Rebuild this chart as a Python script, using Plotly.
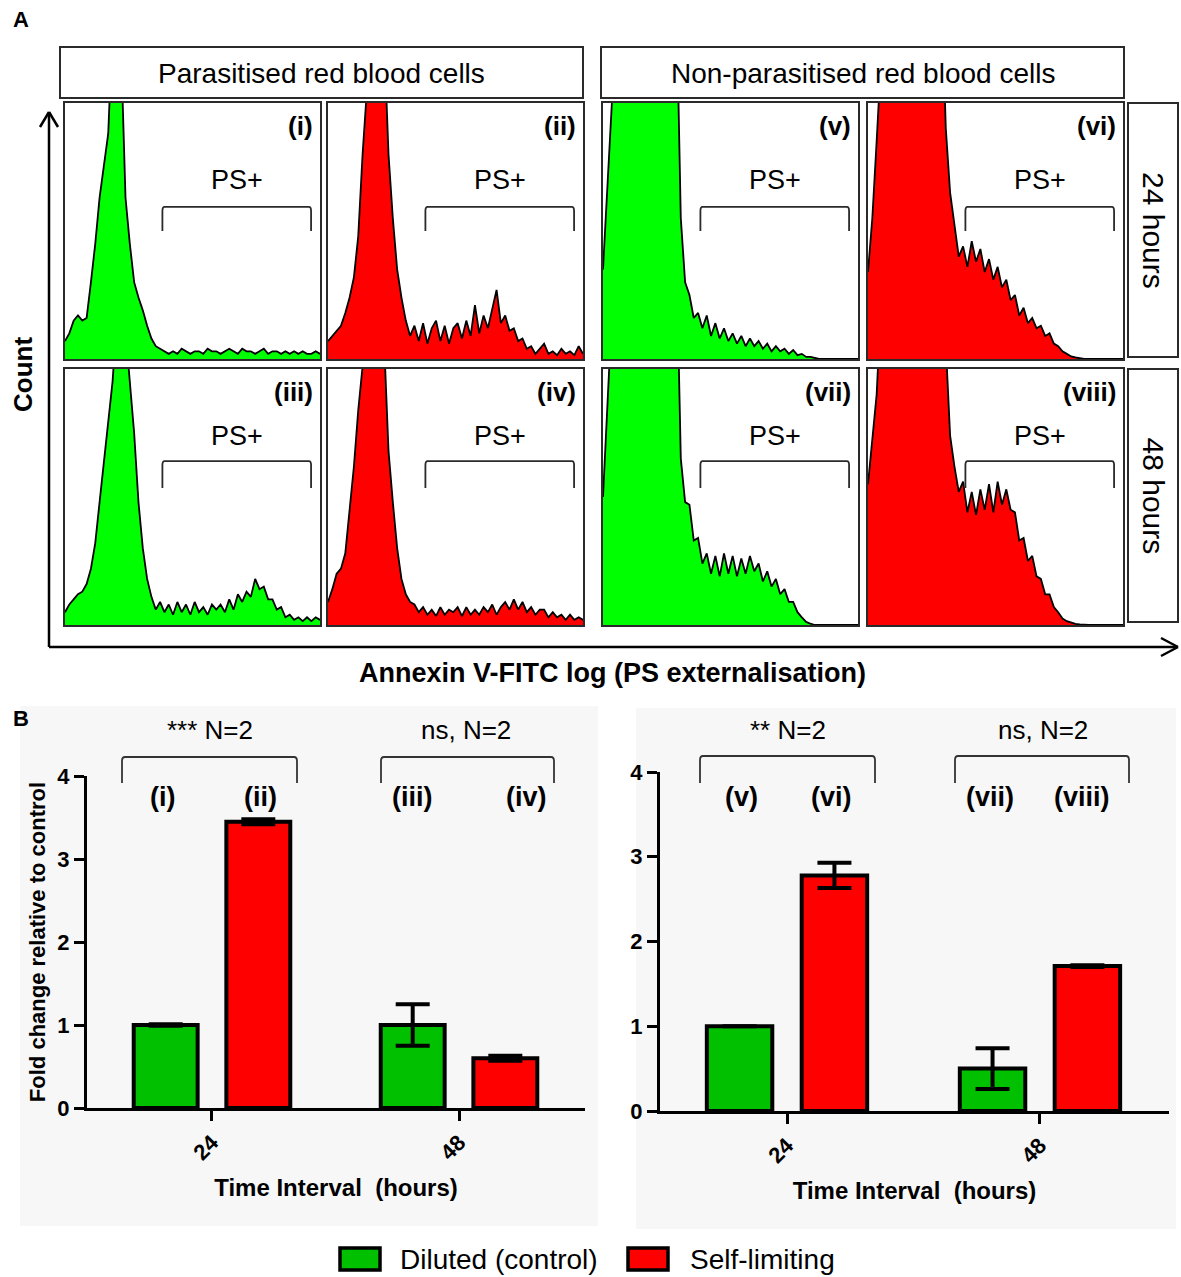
import plotly.graph_objects as go

W, H = 1181, 1277
FONT = "Arial, Liberation Sans, sans-serif"


def px(x):
    return x / W


def py(y):
    return 1 - y / H


# ---------------- data: flow-cytometry histograms (counts, 100 = panel top) -------------
channel = list(range(60))

hist_i = [7, 10, 15, 17, 15, 16, 30, 45, 63, 76, 88, 130, 140, 120, 63, 45, 30, 24, 19, 13,
          8, 5, 4, 3, 2, 3, 2, 4, 3, 2, 3, 3, 2, 4, 3, 3, 2, 3, 4, 3,
          2, 4, 3, 3, 2, 3, 4, 2, 3, 3, 2, 3, 2, 3, 2, 3, 2, 2, 3, 2]
hist_ii = [7, 9, 11, 13, 18, 24, 32, 48, 80, 110, 130, 135, 140, 125, 80, 55, 35, 24, 15, 9,
           13, 7, 14, 6, 12, 15, 7, 13, 6, 12, 14, 8, 15, 9, 21, 10, 17, 12, 19, 27,
           14, 17, 11, 12, 7, 8, 4, 5, 2, 4, 6, 2, 3, 1.5, 4, 2, 3, 1.5, 5, 2]
hist_iii = [5, 8, 10, 12, 13, 16, 22, 32, 48, 64, 78, 95, 120, 125, 115, 95, 75, 48, 30, 18,
            11, 6, 9, 5, 8, 4, 9, 5, 8, 4, 9, 5, 7, 4, 8, 6, 8, 5, 10, 6,
            12, 9, 13, 11, 18, 14, 15, 10, 10, 6, 7, 3, 4, 2, 3, 1.5, 3, 1.5, 3, 2]
hist_iv = [9, 14, 20, 22, 28, 44, 62, 84, 105, 130, 135, 140, 138, 110, 68, 48, 30, 18, 12, 9,
           8, 5, 7, 4, 6, 3.5, 7, 4, 6, 5, 7, 3.5, 7, 4, 6, 4, 7, 5, 8, 4,
           7, 9, 6, 10, 6, 9, 5, 7, 4, 6, 6, 3, 5, 3, 4, 2, 4, 2, 3, 2]
hist_v = [35, 65, 95, 130, 150, 148, 152, 150, 147, 151, 149, 150, 153, 148, 150, 151, 149, 140, 55, 30,
          25, 16, 18, 12, 17, 9, 14, 8, 12, 7, 10, 6, 9, 5, 8, 5, 7, 4, 6, 3,
          5, 3, 4, 2, 3.5, 1.5, 2, 0.8, 0.8, 0.3, 0, 0, 0, 0, 0, 0, 0, 0, 0, 0]
hist_vi = [34, 55, 85, 120, 148, 150, 152, 149, 151, 150, 148, 153, 150, 149, 151, 150, 148, 145, 90, 65,
           52, 40, 44, 36, 46, 38, 43, 34, 39, 31, 36, 28, 31, 23, 25, 17, 20, 14, 16, 12,
           13, 9, 10, 6, 5, 3, 2, 1, 0.6, 0.3, 0, 0, 0, 0, 0, 0, 0, 0, 0, 0]
hist_vii = [50, 88, 120, 148, 150, 152, 149, 151, 150, 148, 153, 150, 149, 151, 150, 148, 152, 145, 65, 48,
            47, 33, 34, 24, 28, 20, 27, 19, 28, 20, 27, 19, 26, 20, 27, 21, 24, 17, 21, 15,
            18, 12, 14, 9, 9, 5, 3, 1.2, 0.5, 0, 0, 0, 0, 0, 0, 0, 0, 0, 0, 0]
hist_viii = [55, 72, 90, 125, 150, 148, 152, 150, 149, 151, 150, 148, 153, 150, 149, 151, 150, 145, 110, 74,
             62, 52, 56, 44, 52, 43, 53, 45, 55, 44, 56, 47, 53, 45, 44, 33, 34, 25, 27, 19,
             18, 12, 12, 7, 5, 2.5, 1.5, 0.8, 0.4, 0.2, 0, 0, 0, 0, 0, 0, 0, 0, 0, 0]

panel_labels = ["(i)", "(ii)", "(v)", "(vi)", "(iii)", "(iv)", "(vii)", "(viii)"]
panel_data = [hist_i, hist_ii, hist_v, hist_vi, hist_iii, hist_iv, hist_vii, hist_viii]
panel_is_control = [True, False, True, False, True, False, True, False]
header_texts = ["Parasitised red blood cells", "Non-parasitised red blood cells"]
row_texts = ["24 hours", "48 hours"]

# ---------------- data: bar charts ----------------
time_groups = ["24", "48"]
left_control = [1.0, 1.0]
left_control_err = [0.01, 0.25]
left_self = [3.45, 0.60]
left_self_err = [0.03, 0.03]
right_control = [1.0, 0.50]
right_control_err = [0.0, 0.24]
right_self = [2.78, 1.71]
right_self_err = [0.15, 0.01]
y_ticks = [0, 1, 2, 3, 4]
left_sig = ["*** N=2", "ns, N=2"]
right_sig = ["** N=2", "ns, N=2"]
left_bar_labels = ["(i)", "(ii)", "(iii)", "(iv)"]
right_bar_labels = ["(v)", "(vi)", "(vii)", "(viii)"]
legend_names = ["Diluted (control)", "Self-limiting"]

GREEN_H = "#00ff00"
RED_H = "#ff0000"
GREEN_B = "#00c000"
RED_B = "#ff0000"
EDGE = "#2a2a2a"

fig = go.Figure()
layout = dict(
    width=W, height=H, margin=dict(l=0, r=0, t=0, b=0, pad=0, autoexpand=False),
    paper_bgcolor="white", plot_bgcolor="rgba(0,0,0,0)",
    showlegend=False, font=dict(family=FONT, color="black"),
    bargap=0.25, bargroupgap=0.31,
)
shapes = []
annotations = []


def paper_text(text, x, y, size, xanchor="center", yanchor="middle", angle=0):
    annotations.append(dict(text=text, x=px(x), y=py(y), xref="paper", yref="paper",
                            xanchor=xanchor, yanchor=yanchor, showarrow=False,
                            textangle=angle, font=dict(size=size, family=FONT)))


cols = [(65, 320), (328, 583), (603, 858), (868, 1123)]
rows = [(103, 359), (369, 625)]

for k in range(8):
    n = k + 1
    r, c = divmod(k, 4)
    x0, x1 = cols[c]
    y0, y1 = rows[r]
    xa = "xaxis" if n == 1 else f"xaxis{n}"
    ya = "yaxis" if n == 1 else f"yaxis{n}"
    xid = "x" if n == 1 else f"x{n}"
    yid = "y" if n == 1 else f"y{n}"
    green = panel_is_control[k]
    fig.add_trace(go.Scatter(
        x=channel, y=panel_data[k], mode="lines", fill="tozeroy",
        fillcolor=GREEN_H if green else RED_H,
        line=dict(color="black", width=1.8), xaxis=xid, yaxis=yid,
        hoverinfo="skip"))
    common = dict(showticklabels=False, ticks="", showgrid=False, zeroline=False,
                  showline=True, mirror=True, linecolor=EDGE, linewidth=1.5,
                  fixedrange=True, automargin=False)
    layout[xa] = dict(domain=[px(x0), px(x1)], range=[0, 59], anchor=yid, **common)
    layout[ya] = dict(domain=[py(y1), py(y0)], range=[0, 100], anchor=xid, **common)
    # PS+ gate bracket
    bx0, bx1 = 0.382 * 59, 0.965 * 59
    if r == 0:
        byt, byb, ty = 59.4, 50.0, 70.0
    else:
        byt, byb, ty = 64.0, 53.5, 74.0
    path = (f"M {bx0},{byb} L {bx0},{byt-1.6} Q {bx0},{byt} {bx0+0.5},{byt} "
            f"L {bx1-0.5},{byt} Q {bx1},{byt} {bx1},{byt-1.6} L {bx1},{byb}")
    shapes.append(dict(type="path", path=path, xref=xid, yref=yid,
                       line=dict(color=EDGE, width=1.8)))
    annotations.append(dict(text="PS+", x=0.675 * 59, y=ty, xref=xid, yref=yid,
                            xanchor="center", yanchor="middle",
                            showarrow=False, font=dict(size=27, family=FONT)))
    annotations.append(dict(text=f"<b>{panel_labels[k]}</b>", x=1, y=1,
                            xref=f"{xid} domain", yref=f"{yid} domain",
                            xanchor="right", yanchor="top", xshift=-5, yshift=-6,
                            showarrow=False, font=dict(size=26, family=FONT)))

# header boxes
for (hx0, hx1), txt in zip([(60, 583), (601, 1124)], header_texts):
    shapes.append(dict(type="rect", xref="paper", yref="paper", x0=px(hx0), x1=px(hx1),
                       y0=py(98), y1=py(47), line=dict(color=EDGE, width=2)))
    paper_text(txt, (hx0 + hx1) / 2, 73, 28)
# row label boxes
for (ry0, ry1), txt in zip([(103, 357), (369, 622)], row_texts):
    shapes.append(dict(type="rect", xref="paper", yref="paper", x0=px(1128), x1=px(1178),
                       y0=py(ry1), y1=py(ry0), line=dict(color=EDGE, width=2)))
    paper_text(txt, 1153, (ry0 + ry1) / 2, 30, angle=90)

# axis arrows of part A
arrow_segments = [((49, 647), (49, 112)), ((40, 127), (49, 112)), ((58, 127), (49, 112)),
                  ((49, 647), (1178, 647)), ((1161, 638), (1178, 647)), ((1161, 656), (1178, 647))]
for (ax0, ay0), (ax1, ay1) in arrow_segments:
    shapes.append(dict(type="line", xref="paper", yref="paper", x0=px(ax0), y0=py(ay0),
                       x1=px(ax1), y1=py(ay1), line=dict(color="black", width=2.5)))
paper_text("<b>Count</b>", 23, 375, 26, angle=-90)
paper_text("<b>Annexin V-FITC log (PS externalisation)</b>", 612, 673, 27)
paper_text("<b>A</b>", 21, 20, 22)
paper_text("<b>B</b>", 21, 718, 22)

# ---------------- part B bar charts ----------------
for bx0, bx1, by0, by1 in [(20, 598, 706, 1226), (636, 1176, 708, 1229)]:
    shapes.append(dict(type="rect", xref="paper", yref="paper", x0=px(bx0), x1=px(bx1),
                       y0=py(by1), y1=py(by0), fillcolor="#f7f7f7", line=dict(width=0),
                       layer="below"))

bar_specs = [
    (9, (87, 585), (776, 1108), [-0.506, 1.51], left_control, left_control_err,
     left_self, left_self_err, True),
    (10, (660, 1169), (772, 1111), [-0.502, 1.51], right_control, right_control_err,
     right_self, right_self_err, False),
]
for n, (dx0, dx1), (dyt, dyb), xr, ctl, ctl_e, slf, slf_e, with_title in bar_specs:
    xid, yid = f"x{n}", f"y{n}"
    for vals, errs, col in [(ctl, ctl_e, GREEN_B), (slf, slf_e, RED_B)]:
        fig.add_trace(go.Bar(
            x=time_groups, y=vals, xaxis=xid, yaxis=yid,
            marker=dict(color=col, line=dict(color="black", width=4)),
            error_y=dict(type="data", array=errs, color="black", thickness=4, width=17),
            hoverinfo="skip"))
    layout[f"xaxis{n}"] = dict(
        domain=[px(dx0), px(dx1)], range=xr, anchor=yid, type="category",
        showline=True, linecolor="black", linewidth=3, showgrid=False, zeroline=False,
        ticks="outside", ticklen=10, tickwidth=3, tickcolor="black", tickangle=-45,
        tickfont=dict(size=22, family=FONT, color="black", weight="bold"),
        title=dict(text="<b>Time Interval\u00a0 (hours)</b>", standoff=16,
                   font=dict(size=24, family=FONT)),
        fixedrange=True, automargin=False)
    yax = dict(
        domain=[py(dyb), py(dyt)], range=[0, 4], anchor=xid,
        tickvals=y_ticks, ticktext=[f"<b>{t}</b>" for t in y_ticks],
        showline=True, linecolor="black", linewidth=3, showgrid=False, zeroline=False,
        ticks="outside", ticklen=10, tickwidth=3, tickcolor="black",
        tickfont=dict(size=22, family=FONT, color="black"), fixedrange=True,
        automargin=False)
    if with_title:
        yax["title"] = dict(text="<b>Fold change relative to control</b>", standoff=6,
                            font=dict(size=22, family=FONT))
    layout[f"yaxis{n}"] = yax

# significance brackets and labels
sig_specs = [
    (left_sig, [(122, 297), (381, 554)], [210, 466], 757, 783),
    (right_sig, [(700, 875), (955, 1129)], [788, 1043], 756, 783),
]
for texts, spans, centers, top, bot in sig_specs:
    for txt, (sx0, sx1), cx in zip(texts, spans, centers):
        p = (f"M {px(sx0)},{py(bot)} L {px(sx0)},{py(top + 4)} Q {px(sx0)},{py(top)} "
             f"{px(sx0 + 3)},{py(top)} L {px(sx1 - 3)},{py(top)} Q {px(sx1)},{py(top)} "
             f"{px(sx1)},{py(top + 4)} L {px(sx1)},{py(bot)}")
        shapes.append(dict(type="path", path=p, xref="paper", yref="paper",
                           line=dict(color="#333333", width=1.8)))
        paper_text(txt, cx, 730, 26)
for labels, xs in [(left_bar_labels, [162, 260, 412, 526]),
                   (right_bar_labels, [742, 831, 990, 1082])]:
    for lab, lx in zip(labels, xs):
        paper_text(f"<b>{lab}</b>", lx, 797, 27)

# legend (drawn)
for (lx0, lx1, tx), name, col in zip([(340, 380, 398), (628, 668, 688)], legend_names,
                                     [GREEN_B, RED_B]):
    shapes.append(dict(type="rect", xref="paper", yref="paper", x0=px(lx0), x1=px(lx1),
                       y0=py(1270), y1=py(1248), fillcolor=col,
                       line=dict(color="black", width=3.5)))
    paper_text(name, tx, 1259, 28, xanchor="left")

layout["shapes"] = shapes
layout["annotations"] = annotations
fig.update_layout(**layout)

fig.write_html("out.html", config={"displayModeBar": False},
               post_script="document.body.style.margin='0';")
